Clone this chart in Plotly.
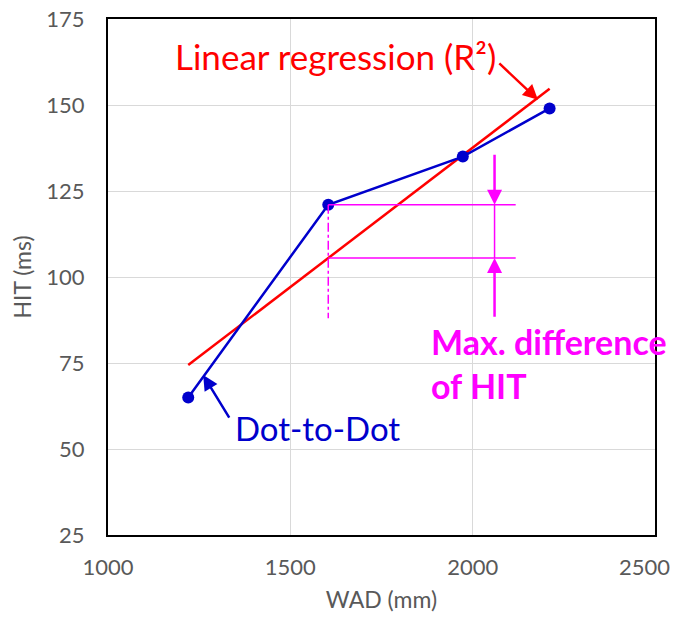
import numpy as np
import plotly.graph_objects as go

# Data
wad = [1220, 1604, 1973, 2211]   # WAD (mm)
hit = [65, 121, 135, 149]        # HIT (ms)
x_ticks = [1000, 1500, 2000, 2500]
x_tick_labels = ["1000", "1500", "2000", ""]
x_last_label = "2500"
y_ticks = [25, 50, 75, 100, 125, 150, 175]

slope, intercept = np.polyfit(wad, hit, 1)
reg_x = [min(wad), max(wad)]
reg_y = [slope * v + intercept for v in reg_x]
resid = [h - (slope * w + intercept) for w, h in zip(wad, hit)]
imax = int(np.argmax(np.abs(resid)))
mx = wad[imax]
my_pt = hit[imax]
my_reg = slope * mx + intercept

BLUE = "#0000CC"
RED = "#FF0000"
MAG = "#FF00FF"
GREY = "#595959"
FONT = "Lato"

fig = go.Figure()
fig.add_trace(go.Scatter(x=reg_x, y=reg_y, mode="lines",
                         line=dict(color=RED, width=2.5), showlegend=False))
fig.add_trace(go.Scatter(x=wad, y=hit, mode="lines+markers",
                         line=dict(color=BLUE, width=2.5),
                         marker=dict(color=BLUE, size=12), showlegend=False))

# Magenta guide lines
x_end = 2118
x_arr = 2060
shapes = [
    dict(type="line", xref="x", yref="y", x0=mx, x1=x_end, y0=my_pt, y1=my_pt,
         line=dict(color=MAG, width=1.5)),
    dict(type="line", xref="x", yref="y", x0=mx, x1=x_end, y0=my_reg, y1=my_reg,
         line=dict(color=MAG, width=1.5)),
    dict(type="line", xref="x", yref="y", x0=mx, x1=mx, y0=my_pt, y1=88,
         line=dict(color=MAG, width=1.5, dash="dashdot")),
    dict(type="line", xref="x", yref="y", x0=x_arr, x1=x_arr, y0=my_pt, y1=my_reg,
         line=dict(color=MAG, width=1.5)),
]

annotations = [
    dict(x=1624, y=164.2, xref="x", yref="y", text="Linear regression (R²)",
         showarrow=False, font=dict(family=FONT, size=35, color=RED)),
    dict(x=2179, y=151.5, ax=2069, ay=162.5, xref="x", yref="y", axref="x", ayref="y",
         text="", showarrow=True, arrowhead=2, arrowsize=1.2, arrowwidth=2.5, arrowcolor=RED),
    dict(x=1343, y=56.1, xref="x", yref="y", text="Dot-to-Dot", xanchor="left",
         showarrow=False, font=dict(family=FONT, size=33, color=BLUE)),
    dict(x=1261, y=71.5, ax=1335, ay=58.7, xref="x", yref="y", axref="x", ayref="y",
         text="", showarrow=True, arrowhead=2, arrowsize=1.2, arrowwidth=2.5, arrowcolor=BLUE),
    dict(x=1879, y=75, xref="x", yref="y", text="<b>Max. difference<br>of HIT</b>",
         xanchor="left", align="left", showarrow=False,
         font=dict(family=FONT, size=34, color=MAG)),
    dict(x=x_arr, y=my_pt, ax=x_arr, ay=136, xref="x", yref="y", axref="x", ayref="y",
         text="", showarrow=True, arrowhead=2, arrowsize=1.2, arrowwidth=2.5, arrowcolor=MAG),
    dict(x=x_arr, y=my_reg, ax=x_arr, ay=88, xref="x", yref="y", axref="x", ayref="y",
         text="", showarrow=True, arrowhead=2, arrowsize=1.2, arrowwidth=2.5, arrowcolor=MAG),
    # last x tick label, pulled inside the page like the reference
    dict(x=x_ticks[-1], y=0, xref="x", yref="paper", text=x_last_label,
         xanchor="right", yanchor="top", xshift=17, yshift=-16, showarrow=False,
         font=dict(family=FONT, size=22, color=GREY)),
]

fig.update_layout(
    width=680, height=618,
    margin=dict(l=100, r=33, t=11, b=91),
    paper_bgcolor="white", plot_bgcolor="white",
    font=dict(family=FONT, color=GREY),
    shapes=shapes, annotations=annotations,
)
fig.update_xaxes(range=[1000, 2500], tickvals=x_ticks, ticktext=x_tick_labels,
                 showgrid=True, gridcolor="#D9D9D9",
                 gridwidth=1, zeroline=False, showline=True, linecolor="black", linewidth=2,
                 mirror=True, ticks="", tickfont=dict(size=22, color=GREY),
                 ticklabelstandoff=12, automargin=False, ticklabeloverflow="allow",
                 title=dict(text="WAD (mm)", font=dict(size=23, color=GREY), standoff=12))
fig.update_yaxes(range=[25, 175], tickvals=y_ticks, showgrid=True, gridcolor="#D9D9D9",
                 gridwidth=1, zeroline=False, showline=True, linecolor="black", linewidth=2,
                 mirror=True, ticks="", tickfont=dict(size=22, color=GREY),
                 ticklabelstandoff=17, automargin=False, ticklabeloverflow="allow",
                 title=dict(text="HIT (ms)", font=dict(size=23, color=GREY), standoff=8))

fig.write_html("out.html")
